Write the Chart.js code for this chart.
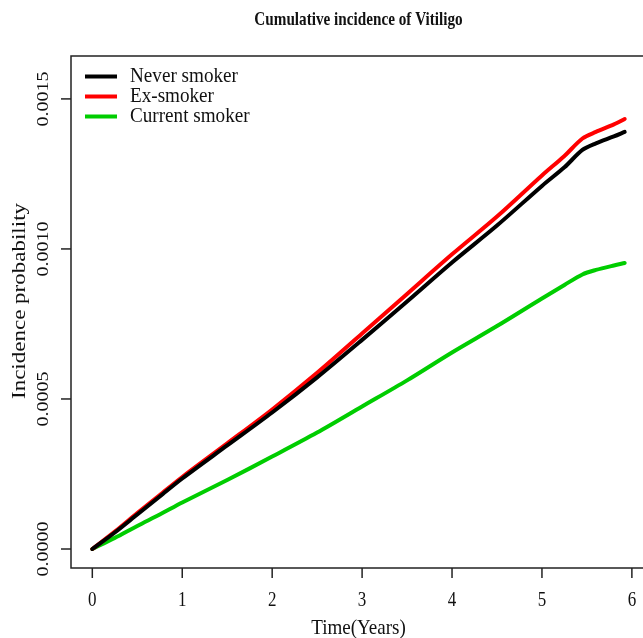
<!DOCTYPE html>
<html>
<head>
<meta charset="utf-8">
<script src="https://cdn.jsdelivr.net/npm/chart.js@4"></script>
<style>
  html, body { margin: 0; padding: 0; background: #fff; overflow: hidden; }
  canvas { display: block; }
</style>
</head>
<body>
<canvas id="incidenceChart" width="660" height="638"></canvas>
<script>
const years = [0, 0.25, 0.5, 0.75, 1, 1.5, 2, 2.5, 3, 3.5, 4, 4.5, 5, 5.25, 5.45, 5.6, 5.8, 5.92];
const neverSmoker = [0, 0.000055, 0.000115, 0.000175, 0.000235, 0.000345, 0.000455, 0.000572, 0.000697, 0.000825, 0.000955, 0.001078, 0.001210, 0.001272, 0.001330, 0.001352, 0.001375, 0.001390];
const exSmoker = [0, 0.000058, 0.000120, 0.000180, 0.000240, 0.000352, 0.000465, 0.000587, 0.000718, 0.000850, 0.000982, 0.001108, 0.001245, 0.001310, 0.001368, 0.001390, 0.001415, 0.001433];
const currentSmoker = [0, 0.000037, 0.000077, 0.000115, 0.000155, 0.000230, 0.000308, 0.000388, 0.000475, 0.000562, 0.000655, 0.000743, 0.000835, 0.000880, 0.000915, 0.000930, 0.000945, 0.000953];

const xTicks = [0, 1, 2, 3, 4, 5, 6];
const yTicks = [0, 0.0005, 0.0010, 0.0015];
const yTickLabels = ["0.0000", "0.0005", "0.0010", "0.0015"];

const seriesNames = ["Never smoker", "Ex-smoker", "Current smoker"];
const seriesColors = ["#000000", "#ff0000", "#00cd00"];

const serif = "'Liberation Serif', 'DejaVu Serif', serif";

function toPoints(values) {
  return values.map((v, i) => ({ x: years[i], y: v }));
}

// text in the picture is a bit narrow, so squeeze it sideways
function squeezedText(c, text, x, y, font, sx, angle) {
  c.save();
  c.font = font;
  c.translate(x, y);
  if (angle) {
    c.rotate(angle);
    c.scale(1, sx);
  } else {
    c.scale(sx, 1);
  }
  c.fillText(text, 0, 0);
  c.restore();
}

// R-style box, ticks, labels and legend
const basePlot = {
  id: "basePlot",
  afterDraw(chart) {
    const c = chart.ctx;
    const area = chart.chartArea;
    const xs = chart.scales.x;
    const ys = chart.scales.y;

    c.save();
    c.strokeStyle = "#222";
    c.lineWidth = 1.5;
    c.strokeRect(area.left, area.top, area.right - area.left, area.bottom - area.top);

    c.fillStyle = "#111";
    c.textAlign = "center";
    c.textBaseline = "middle";
    xTicks.forEach(t => {
      const px = xs.getPixelForValue(t);
      c.beginPath();
      c.moveTo(px, area.bottom);
      c.lineTo(px, area.bottom + 10);
      c.stroke();
      squeezedText(c, String(t), px, 601, "20px " + serif, 0.85);
    });

    yTicks.forEach((t, i) => {
      const py = ys.getPixelForValue(t);
      c.beginPath();
      c.moveTo(area.left, py);
      c.lineTo(area.left - 10, py);
      c.stroke();
      squeezedText(c, yTickLabels[i], 44, py, "20px " + serif, 0.85, -Math.PI / 2);
    });

    const midX = (area.left + area.right) / 2;
    squeezedText(c, "Time(Years)", midX, 628, "22px " + serif, 0.865);
    squeezedText(c, "Incidence probability", 20, 301, "23px " + serif, 0.85, -Math.PI / 2);
    squeezedText(c, "Cumulative incidence of Vitiligo", midX, 20, "bold 19px " + serif, 0.8);

    c.textAlign = "left";
    c.lineWidth = 4;
    seriesNames.forEach((name, i) => {
      const ly = 76.5 + i * 20;
      c.strokeStyle = seriesColors[i];
      c.beginPath();
      c.moveTo(85, ly);
      c.lineTo(117, ly);
      c.stroke();
      squeezedText(c, name, 130, ly, "22px " + serif, 0.87);
    });
    c.restore();
  }
};

new Chart(document.getElementById("incidenceChart"), {
  type: "line",
  data: {
    datasets: [
      { label: seriesNames[0], data: toPoints(neverSmoker), borderColor: seriesColors[0] },
      { label: seriesNames[1], data: toPoints(exSmoker), borderColor: seriesColors[1] },
      { label: seriesNames[2], data: toPoints(currentSmoker), borderColor: seriesColors[2] }
    ]
  },
  options: {
    responsive: false,
    animation: false,
    layout: { padding: { left: 71, top: 56, right: 14, bottom: 70 } },
    elements: {
      point: { radius: 0 },
      line: { borderWidth: 4, tension: 0.3, borderCapStyle: "round", borderJoinStyle: "round" }
    },
    scales: {
      x: { type: "linear", display: false, min: -0.237, max: 6.157 },
      y: { type: "linear", display: false, min: -0.0000633, max: 0.001643 }
    },
    plugins: {
      legend: { display: false },
      tooltip: { enabled: false }
    }
  },
  plugins: [basePlot]
});
</script>
</body>
</html>
